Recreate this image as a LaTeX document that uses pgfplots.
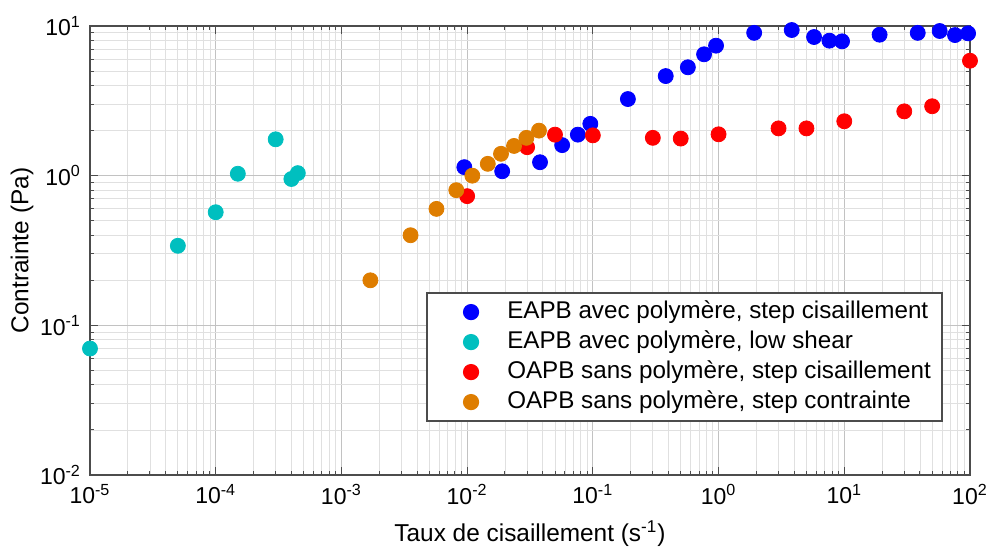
\documentclass[border=0pt]{standalone}
\usepackage{fontspec}
\setmainfont{Liberation Sans}
\usepackage{pgfplots}
\pgfplotsset{compat=1.18}
\definecolor{cblue}{RGB}{0,0,255}
\definecolor{ccyan}{RGB}{0,191,191}
\definecolor{cred}{RGB}{255,0,0}
\definecolor{corange}{RGB}{222,125,0}
\begin{document}
\begin{tikzpicture}[font=\fontsize{11.5}{13.8}\selectfont]
\begin{axis}[
  scale only axis, width=440pt, height=224.5pt,
  xmode=log, ymode=log,
  xmin=1e-5, xmax=100, ymin=1e-2, ymax=10,
  xtick={1e-5,1e-4,1e-3,1e-2,1e-1,1,10,100},
  xticklabels={10\textsuperscript{-5},10\textsuperscript{-4},10\textsuperscript{-3},10\textsuperscript{-2},10\textsuperscript{-1},10\textsuperscript{0},10\textsuperscript{1},10\textsuperscript{2}},
  ytick={1e-2,1e-1,1,10},
  yticklabels={10\textsuperscript{-2},10\textsuperscript{-1},10\textsuperscript{0},10\textsuperscript{1}},
  minor xtick={2e-5,3e-5,4e-5,5e-5,6e-5,7e-5,8e-5,9e-5,
               2e-4,3e-4,4e-4,5e-4,6e-4,7e-4,8e-4,9e-4,
               2e-3,3e-3,4e-3,5e-3,6e-3,7e-3,8e-3,9e-3,
               2e-2,3e-2,4e-2,5e-2,6e-2,7e-2,8e-2,9e-2,
               0.2,0.3,0.4,0.5,0.6,0.7,0.8,0.9,
               2,3,4,5,6,7,8,9,
               20,30,40,50,60,70,80,90},
  minor ytick={2e-2,3e-2,4e-2,5e-2,6e-2,7e-2,8e-2,9e-2,
               0.2,0.3,0.4,0.5,0.6,0.7,0.8,0.9,
               2,3,4,5,6,7,8,9},
  grid=both,
  major grid style={color=black!24, line width=0.5pt},
  minor grid style={color=black!12, line width=0.45pt},
  tick align=inside,
  major tick length=4pt, minor tick length=2pt,
  axis line style={black!70, line width=0.6pt},
  every tick/.style={black!70, line width=0.5pt},
  clip=false,
  xlabel={Taux de cisaillement (s\textsuperscript{-1})},
  ylabel={Contrainte (Pa)},
  xlabel style={at={(axis description cs:0.5,-0.13)}, anchor=center, font=\fontsize{12.2}{14.6}\selectfont},
  ylabel style={at={(axis description cs:-0.0773,0.5)}, anchor=center, font=\fontsize{12.2}{14.6}\selectfont},
  xticklabel style={yshift=-1pt},
  yticklabel style={xshift=-1pt},
  legend style={at={(0.9688,0.4065)}, anchor=north east, draw=black!70, line width=0.6pt,
    font=\fontsize{12.1}{14.5}\selectfont,
    inner xsep=3pt, inner ysep=3pt, row sep=2pt,
    nodes={inner xsep=2.5pt, inner ysep=1pt, text height=8.5pt, text depth=2.5pt}},
  legend cell align=left,
  legend image code/.code={\path (-18.7pt,0pt) (15.3pt,0pt); \draw[#1] plot coordinates {(0pt,0pt)};},
]
\addplot[only marks, mark=*, mark size=3.75pt, color=cblue, mark options={fill=cblue, draw=cblue}] coordinates {
(0.0095,1.14) (0.019,1.07) (0.038,1.23) (0.057,1.60) (0.076,1.88) (0.0955,2.22)
(0.19,3.25) (0.38,4.63) (0.57,5.3) (0.767,6.47) (0.955,7.39) (1.92,9.0)
(3.82,9.4) (5.75,8.44) (7.62,7.98) (9.6,7.9) (19.1,8.75) (38.4,9.0)
(57.4,9.26) (76,8.7) (96.6,8.93)
};
\addlegendentry{EAPB avec polymère, step cisaillement}
\addplot[only marks, mark=*, mark size=3.75pt, color=ccyan, mark options={fill=ccyan, draw=ccyan}] coordinates {
(1e-5,0.07) (5e-5,0.34) (1e-4,0.57) (1.5e-4,1.03) (3e-4,1.75) (4e-4,0.95) (4.5e-4,1.04)
};
\addlegendentry{EAPB avec polymère, low shear}
\addplot[only marks, mark=*, mark size=3.75pt, color=cred, mark options={fill=cred, draw=cred}] coordinates {
(0.01,0.73) (0.03,1.55) (0.05,1.88) (0.1,1.86) (0.3,1.79) (0.5,1.77) (1,1.89)
(3,2.07) (5,2.07) (10,2.31) (30,2.69) (50,2.91) (100,5.86)
};
\addlegendentry{OAPB sans polymère, step cisaillement}
\addplot[only marks, mark=*, mark size=3.75pt, color=corange, mark options={fill=corange, draw=corange}] coordinates {
(1.7e-3,0.2) (3.55e-3,0.4) (5.7e-3,0.6) (8.2e-3,0.8) (0.011,1.0) (0.0146,1.2)
(0.0186,1.4) (0.0236,1.58) (0.0296,1.79) (0.0373,2.0)
};
\addlegendentry{OAPB sans polymère, step contrainte}
\end{axis}
\pgfresetboundingbox
\path (-45pt,-39.5pt) rectangle (450pt,237.5pt);
\end{tikzpicture}
\end{document}
